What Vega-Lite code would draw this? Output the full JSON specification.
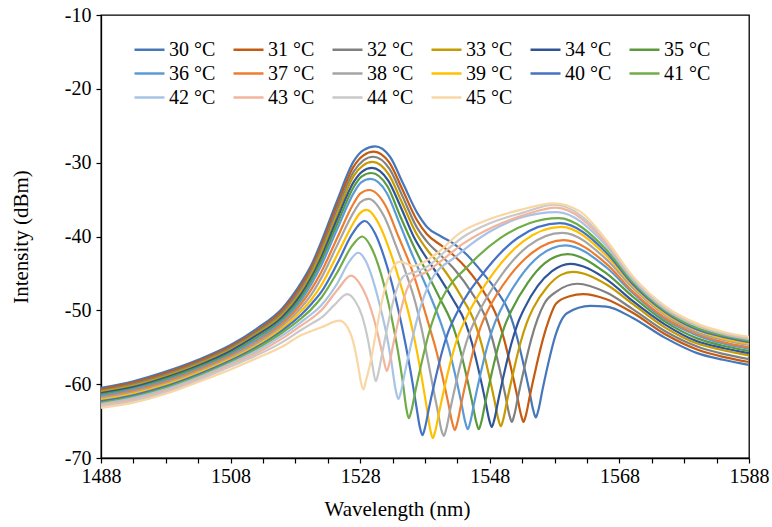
{
"$schema": "https://vega.github.io/schema/vega-lite/v6.json",
"width": 648, "height": 443,
"autosize": {"type": "none"},
"padding": {"left": 101, "top": 15, "right": 23, "bottom": 69},
"background": "white",
"config": {"view": {"stroke": "black", "strokeWidth": 1.3}, "font": "Times New Roman",
  "axis": {"labelFont": "Times New Roman", "titleFont": "Times New Roman"},
  "legend": {"labelFont": "Times New Roman"},
  "style": {"guide-label": {"font": "Times New Roman"}, "guide-title": {"font": "Times New Roman"}}},
"datasets": {"d": [
{"s":"30 °C","x":1488,"y":-60.5},{"s":"30 °C","x":1493,"y":-59.6},{"s":"30 °C","x":1498,"y":-58.3},{"s":"30 °C","x":1503,"y":-56.7},{"s":"30 °C","x":1508,"y":-54.7},{"s":"30 °C","x":1512,"y":-52.5},{"s":"30 °C","x":1516,"y":-49.7},{"s":"30 °C","x":1519,"y":-46.1},{"s":"30 °C","x":1520.5,"y":-43.8},{"s":"30 °C","x":1522,"y":-40.7},{"s":"30 °C","x":1524.5,"y":-35.0},{"s":"30 °C","x":1527,"y":-29.8},{"s":"30 °C","x":1528.5,"y":-28.3},{"s":"30 °C","x":1530.3,"y":-27.8},{"s":"30 °C","x":1532.6,"y":-29.2},{"s":"30 °C","x":1534.6,"y":-32.8},{"s":"30 °C","x":1536.8,"y":-36.8},{"s":"30 °C","x":1538.3,"y":-38.7},{"s":"30 °C","x":1540.5,"y":-40.0},{"s":"30 °C","x":1542.3,"y":-40.9},{"s":"30 °C","x":1544.5,"y":-42.5},{"s":"30 °C","x":1546.5,"y":-44.5},{"s":"30 °C","x":1549,"y":-47.3},{"s":"30 °C","x":1551.1,"y":-50.5},{"s":"30 °C","x":1552.1,"y":-53.3},{"s":"30 °C","x":1553.1,"y":-56.9},{"s":"30 °C","x":1554.1,"y":-60.9},{"s":"30 °C","x":1554.7,"y":-63.5},{"s":"30 °C","x":1555.1,"y":-64.5},{"s":"30 °C","x":1555.5,"y":-63.5},{"s":"30 °C","x":1556.1,"y":-60.9},{"s":"30 °C","x":1557.1,"y":-56.9},{"s":"30 °C","x":1558.1,"y":-53.5},{"s":"30 °C","x":1559.9,"y":-50.4},{"s":"30 °C","x":1563.5,"y":-49.4},{"s":"30 °C","x":1566,"y":-49.5},{"s":"30 °C","x":1570,"y":-51.0},{"s":"30 °C","x":1575,"y":-53.7},{"s":"30 °C","x":1580,"y":-55.8},{"s":"30 °C","x":1584,"y":-56.7},{"s":"30 °C","x":1588,"y":-57.4},
{"s":"31 °C","x":1488,"y":-60.7},{"s":"31 °C","x":1493,"y":-59.8},{"s":"31 °C","x":1498,"y":-58.5},{"s":"31 °C","x":1503,"y":-56.9},{"s":"31 °C","x":1508,"y":-54.9},{"s":"31 °C","x":1512,"y":-52.8},{"s":"31 °C","x":1516,"y":-50.0},{"s":"31 °C","x":1519,"y":-46.5},{"s":"31 °C","x":1520.5,"y":-44.2},{"s":"31 °C","x":1522,"y":-41.2},{"s":"31 °C","x":1524.5,"y":-35.6},{"s":"31 °C","x":1527,"y":-30.5},{"s":"31 °C","x":1528.5,"y":-29.0},{"s":"31 °C","x":1530.1,"y":-28.5},{"s":"31 °C","x":1532.5,"y":-30.0},{"s":"31 °C","x":1534.5,"y":-33.6},{"s":"31 °C","x":1536.7,"y":-37.7},{"s":"31 °C","x":1538.3,"y":-39.7},{"s":"31 °C","x":1540.5,"y":-41.2},{"s":"31 °C","x":1542.5,"y":-42.6},{"s":"31 °C","x":1544.5,"y":-44.4},{"s":"31 °C","x":1547.0,"y":-47.4},{"s":"31 °C","x":1549.2,"y":-51.1},{"s":"31 °C","x":1550.2,"y":-53.9},{"s":"31 °C","x":1551.2,"y":-57.5},{"s":"31 °C","x":1552.2,"y":-61.5},{"s":"31 °C","x":1552.8,"y":-64.1},{"s":"31 °C","x":1553.2,"y":-65.1},{"s":"31 °C","x":1553.6,"y":-64.1},{"s":"31 °C","x":1554.2,"y":-61.5},{"s":"31 °C","x":1555.2,"y":-57.5},{"s":"31 °C","x":1556.2,"y":-53.9},{"s":"31 °C","x":1557.2,"y":-51.1},{"s":"31 °C","x":1558.2,"y":-49.1},{"s":"31 °C","x":1560.3,"y":-48.1},{"s":"31 °C","x":1562.4,"y":-47.8},{"s":"31 °C","x":1566,"y":-48.5},{"s":"31 °C","x":1570,"y":-50.3},{"s":"31 °C","x":1575,"y":-53.2},{"s":"31 °C","x":1580,"y":-55.3},{"s":"31 °C","x":1584,"y":-56.3},{"s":"31 °C","x":1588,"y":-57.0},
{"s":"32 °C","x":1488,"y":-60.9},{"s":"32 °C","x":1493,"y":-60.0},{"s":"32 °C","x":1498,"y":-58.7},{"s":"32 °C","x":1503,"y":-57.1},{"s":"32 °C","x":1508,"y":-55.1},{"s":"32 °C","x":1512,"y":-53.0},{"s":"32 °C","x":1516,"y":-50.3},{"s":"32 °C","x":1519,"y":-46.9},{"s":"32 °C","x":1520.5,"y":-44.6},{"s":"32 °C","x":1522,"y":-41.7},{"s":"32 °C","x":1524.5,"y":-36.2},{"s":"32 °C","x":1527,"y":-31.2},{"s":"32 °C","x":1528.5,"y":-29.7},{"s":"32 °C","x":1530.0,"y":-29.2},{"s":"32 °C","x":1532.5,"y":-30.8},{"s":"32 °C","x":1534.5,"y":-34.5},{"s":"32 °C","x":1536.7,"y":-38.7},{"s":"32 °C","x":1538.5,"y":-40.9},{"s":"32 °C","x":1540.5,"y":-42.6},{"s":"32 °C","x":1542.7,"y":-44.6},{"s":"32 °C","x":1545.2,"y":-47.6},{"s":"32 °C","x":1547.4,"y":-51.1},{"s":"32 °C","x":1548.4,"y":-53.9},{"s":"32 °C","x":1549.4,"y":-57.5},{"s":"32 °C","x":1550.4,"y":-61.5},{"s":"32 °C","x":1551.0,"y":-64.1},{"s":"32 °C","x":1551.4,"y":-65.1},{"s":"32 °C","x":1551.8,"y":-64.1},{"s":"32 °C","x":1552.4,"y":-61.5},{"s":"32 °C","x":1553.4,"y":-57.5},{"s":"32 °C","x":1554.4,"y":-53.9},{"s":"32 °C","x":1555.4,"y":-51.1},{"s":"32 °C","x":1556.4,"y":-49.1},{"s":"32 °C","x":1558.4,"y":-47.4},{"s":"32 °C","x":1561.5,"y":-46.4},{"s":"32 °C","x":1566,"y":-47.6},{"s":"32 °C","x":1570,"y":-49.8},{"s":"32 °C","x":1575,"y":-52.8},{"s":"32 °C","x":1580,"y":-54.9},{"s":"32 °C","x":1584,"y":-55.9},{"s":"32 °C","x":1588,"y":-56.6},
{"s":"33 °C","x":1488,"y":-61.0},{"s":"33 °C","x":1493,"y":-60.2},{"s":"33 °C","x":1498,"y":-58.9},{"s":"33 °C","x":1503,"y":-57.3},{"s":"33 °C","x":1508,"y":-55.3},{"s":"33 °C","x":1512,"y":-53.2},{"s":"33 °C","x":1516,"y":-50.6},{"s":"33 °C","x":1519,"y":-47.3},{"s":"33 °C","x":1520.5,"y":-45.0},{"s":"33 °C","x":1522,"y":-42.2},{"s":"33 °C","x":1524.5,"y":-36.9},{"s":"33 °C","x":1527,"y":-31.8},{"s":"33 °C","x":1528.4,"y":-30.4},{"s":"33 °C","x":1529.9,"y":-29.9},{"s":"33 °C","x":1532.4,"y":-31.6},{"s":"33 °C","x":1534.4,"y":-35.3},{"s":"33 °C","x":1536.6,"y":-39.5},{"s":"33 °C","x":1538.5,"y":-42.0},{"s":"33 °C","x":1540.5,"y":-44.0},{"s":"33 °C","x":1543.5,"y":-48.0},{"s":"33 °C","x":1545.7,"y":-51.7},{"s":"33 °C","x":1546.7,"y":-54.5},{"s":"33 °C","x":1547.7,"y":-58.1},{"s":"33 °C","x":1548.7,"y":-62.1},{"s":"33 °C","x":1549.3,"y":-64.7},{"s":"33 °C","x":1549.7,"y":-65.7},{"s":"33 °C","x":1550.1,"y":-64.7},{"s":"33 °C","x":1550.7,"y":-62.1},{"s":"33 °C","x":1551.7,"y":-58.1},{"s":"33 °C","x":1552.7,"y":-54.5},{"s":"33 °C","x":1553.7,"y":-51.7},{"s":"33 °C","x":1554.7,"y":-49.7},{"s":"33 °C","x":1556.8,"y":-46.9},{"s":"33 °C","x":1559.0,"y":-45.2},{"s":"33 °C","x":1560.8,"y":-44.8},{"s":"33 °C","x":1566,"y":-46.5},{"s":"33 °C","x":1570,"y":-49.1},{"s":"33 °C","x":1575,"y":-52.3},{"s":"33 °C","x":1580,"y":-54.5},{"s":"33 °C","x":1584,"y":-55.4},{"s":"33 °C","x":1588,"y":-56.1},
{"s":"34 °C","x":1488,"y":-61.2},{"s":"34 °C","x":1493,"y":-60.4},{"s":"34 °C","x":1498,"y":-59.1},{"s":"34 °C","x":1503,"y":-57.5},{"s":"34 °C","x":1508,"y":-55.5},{"s":"34 °C","x":1512,"y":-53.4},{"s":"34 °C","x":1516,"y":-50.9},{"s":"34 °C","x":1519,"y":-47.7},{"s":"34 °C","x":1520.5,"y":-45.5},{"s":"34 °C","x":1522,"y":-42.8},{"s":"34 °C","x":1524.5,"y":-37.5},{"s":"34 °C","x":1527,"y":-32.6},{"s":"34 °C","x":1528.3,"y":-31.2},{"s":"34 °C","x":1529.8,"y":-30.7},{"s":"34 °C","x":1532.3,"y":-32.4},{"s":"34 °C","x":1534.3,"y":-36.1},{"s":"34 °C","x":1536.3,"y":-40.1},{"s":"34 °C","x":1538.3,"y":-43.0},{"s":"34 °C","x":1540.3,"y":-45.6},{"s":"34 °C","x":1542.3,"y":-48.5},{"s":"34 °C","x":1544.3,"y":-51.8},{"s":"34 °C","x":1545.3,"y":-54.6},{"s":"34 °C","x":1546.3,"y":-58.2},{"s":"34 °C","x":1547.3,"y":-62.2},{"s":"34 °C","x":1547.9,"y":-64.8},{"s":"34 °C","x":1548.3,"y":-65.8},{"s":"34 °C","x":1548.7,"y":-64.8},{"s":"34 °C","x":1549.3,"y":-62.2},{"s":"34 °C","x":1550.3,"y":-58.2},{"s":"34 °C","x":1551.3,"y":-54.6},{"s":"34 °C","x":1552.3,"y":-51.8},{"s":"34 °C","x":1553.3,"y":-49.8},{"s":"34 °C","x":1555.4,"y":-46.7},{"s":"34 °C","x":1557.6,"y":-44.7},{"s":"34 °C","x":1560.4,"y":-43.7},{"s":"34 °C","x":1566,"y":-45.8},{"s":"34 °C","x":1570,"y":-48.7},{"s":"34 °C","x":1575,"y":-51.9},{"s":"34 °C","x":1580,"y":-54.2},{"s":"34 °C","x":1584,"y":-55.1},{"s":"34 °C","x":1588,"y":-55.8},
{"s":"35 °C","x":1488,"y":-61.4},{"s":"35 °C","x":1493,"y":-60.6},{"s":"35 °C","x":1498,"y":-59.3},{"s":"35 °C","x":1503,"y":-57.7},{"s":"35 °C","x":1508,"y":-55.8},{"s":"35 °C","x":1512,"y":-53.7},{"s":"35 °C","x":1516,"y":-51.2},{"s":"35 °C","x":1519,"y":-48.1},{"s":"35 °C","x":1520.5,"y":-45.9},{"s":"35 °C","x":1522,"y":-43.3},{"s":"35 °C","x":1524.5,"y":-38.2},{"s":"35 °C","x":1527,"y":-33.3},{"s":"35 °C","x":1528.2,"y":-31.9},{"s":"35 °C","x":1529.7,"y":-31.4},{"s":"35 °C","x":1532.2,"y":-33.2},{"s":"35 °C","x":1534.2,"y":-37.3},{"s":"35 °C","x":1536.3,"y":-41.4},{"s":"35 °C","x":1538.3,"y":-44.9},{"s":"35 °C","x":1540.3,"y":-48.4},{"s":"35 °C","x":1542.3,"y":-52.1},{"s":"35 °C","x":1543.3,"y":-54.9},{"s":"35 °C","x":1544.3,"y":-58.5},{"s":"35 °C","x":1545.3,"y":-62.5},{"s":"35 °C","x":1545.9,"y":-65.1},{"s":"35 °C","x":1546.3,"y":-66.1},{"s":"35 °C","x":1546.7,"y":-65.1},{"s":"35 °C","x":1547.3,"y":-62.5},{"s":"35 °C","x":1548.3,"y":-58.5},{"s":"35 °C","x":1549.3,"y":-54.9},{"s":"35 °C","x":1550.3,"y":-52.1},{"s":"35 °C","x":1551.3,"y":-50.1},{"s":"35 °C","x":1553.9,"y":-46.2},{"s":"35 °C","x":1556.5,"y":-43.6},{"s":"35 °C","x":1560.0,"y":-42.4},{"s":"35 °C","x":1566,"y":-45.0},{"s":"35 °C","x":1570,"y":-48.1},{"s":"35 °C","x":1575,"y":-51.5},{"s":"35 °C","x":1580,"y":-53.8},{"s":"35 °C","x":1584,"y":-54.8},{"s":"35 °C","x":1588,"y":-55.5},
{"s":"36 °C","x":1488,"y":-61.6},{"s":"36 °C","x":1493,"y":-60.7},{"s":"36 °C","x":1498,"y":-59.5},{"s":"36 °C","x":1503,"y":-57.9},{"s":"36 °C","x":1508,"y":-56.0},{"s":"36 °C","x":1512,"y":-54.0},{"s":"36 °C","x":1516,"y":-51.5},{"s":"36 °C","x":1519,"y":-48.5},{"s":"36 °C","x":1520.5,"y":-46.4},{"s":"36 °C","x":1522,"y":-43.9},{"s":"36 °C","x":1524.5,"y":-38.9},{"s":"36 °C","x":1527,"y":-34.1},{"s":"36 °C","x":1528.1,"y":-32.7},{"s":"36 °C","x":1529.6,"y":-32.2},{"s":"36 °C","x":1532.1,"y":-34.1},{"s":"36 °C","x":1534.1,"y":-38.3},{"s":"36 °C","x":1536.1,"y":-42.6},{"s":"36 °C","x":1538.6,"y":-47.6},{"s":"36 °C","x":1540.6,"y":-52.1},{"s":"36 °C","x":1541.6,"y":-54.9},{"s":"36 °C","x":1542.6,"y":-58.5},{"s":"36 °C","x":1543.6,"y":-62.5},{"s":"36 °C","x":1544.2,"y":-65.1},{"s":"36 °C","x":1544.6,"y":-66.1},{"s":"36 °C","x":1545.0,"y":-65.1},{"s":"36 °C","x":1545.6,"y":-62.5},{"s":"36 °C","x":1546.6,"y":-58.5},{"s":"36 °C","x":1547.6,"y":-54.9},{"s":"36 °C","x":1548.6,"y":-52.1},{"s":"36 °C","x":1549.6,"y":-50.1},{"s":"36 °C","x":1552.6,"y":-45.6},{"s":"36 °C","x":1555.7,"y":-42.6},{"s":"36 °C","x":1559.7,"y":-41.2},{"s":"36 °C","x":1566,"y":-44.2},{"s":"36 °C","x":1570,"y":-47.6},{"s":"36 °C","x":1575,"y":-51.2},{"s":"36 °C","x":1580,"y":-53.4},{"s":"36 °C","x":1584,"y":-54.5},{"s":"36 °C","x":1588,"y":-55.2},
{"s":"37 °C","x":1488,"y":-61.8},{"s":"37 °C","x":1493,"y":-60.9},{"s":"37 °C","x":1498,"y":-59.7},{"s":"37 °C","x":1503,"y":-58.1},{"s":"37 °C","x":1508,"y":-56.2},{"s":"37 °C","x":1512,"y":-54.3},{"s":"37 °C","x":1516,"y":-51.8},{"s":"37 °C","x":1519,"y":-49.0},{"s":"37 °C","x":1520.5,"y":-47.1},{"s":"37 °C","x":1522,"y":-44.8},{"s":"37 °C","x":1524.5,"y":-40.1},{"s":"37 °C","x":1527,"y":-35.5},{"s":"37 °C","x":1528.0,"y":-34.2},{"s":"37 °C","x":1529.4,"y":-33.7},{"s":"37 °C","x":1531.9,"y":-35.8},{"s":"37 °C","x":1533.9,"y":-40.0},{"s":"37 °C","x":1535.9,"y":-44.3},{"s":"37 °C","x":1537.6,"y":-49.0},{"s":"37 °C","x":1538.6,"y":-52.0},{"s":"37 °C","x":1539.6,"y":-55.0},{"s":"37 °C","x":1540.6,"y":-58.6},{"s":"37 °C","x":1541.6,"y":-62.6},{"s":"37 °C","x":1542.2,"y":-65.2},{"s":"37 °C","x":1542.6,"y":-66.2},{"s":"37 °C","x":1543.0,"y":-65.2},{"s":"37 °C","x":1543.6,"y":-62.6},{"s":"37 °C","x":1544.6,"y":-58.6},{"s":"37 °C","x":1545.6,"y":-55.0},{"s":"37 °C","x":1546.6,"y":-52.2},{"s":"37 °C","x":1547.6,"y":-50.2},{"s":"37 °C","x":1551.1,"y":-45.3},{"s":"37 °C","x":1554.7,"y":-42.1},{"s":"37 °C","x":1559.4,"y":-40.5},{"s":"37 °C","x":1566,"y":-43.7},{"s":"37 °C","x":1570,"y":-47.4},{"s":"37 °C","x":1575,"y":-51.0},{"s":"37 °C","x":1580,"y":-53.2},{"s":"37 °C","x":1584,"y":-54.3},{"s":"37 °C","x":1588,"y":-55.0},
{"s":"38 °C","x":1488,"y":-61.9},{"s":"38 °C","x":1493,"y":-61.1},{"s":"38 °C","x":1498,"y":-59.9},{"s":"38 °C","x":1503,"y":-58.3},{"s":"38 °C","x":1508,"y":-56.4},{"s":"38 °C","x":1512,"y":-54.5},{"s":"38 °C","x":1516,"y":-52.1},{"s":"38 °C","x":1519,"y":-49.5},{"s":"38 °C","x":1520.5,"y":-47.8},{"s":"38 °C","x":1522,"y":-45.6},{"s":"38 °C","x":1524.5,"y":-41.1},{"s":"38 °C","x":1527,"y":-36.7},{"s":"38 °C","x":1528.0,"y":-35.4},{"s":"38 °C","x":1529.3,"y":-34.9},{"s":"38 °C","x":1531.7,"y":-37.3},{"s":"38 °C","x":1533.5,"y":-41.2},{"s":"38 °C","x":1535.2,"y":-45.3},{"s":"38 °C","x":1536.5,"y":-48.9},{"s":"38 °C","x":1537.5,"y":-52.6},{"s":"38 °C","x":1538.5,"y":-57.0},{"s":"38 °C","x":1539.5,"y":-61.6},{"s":"38 °C","x":1540.0,"y":-63.8},{"s":"38 °C","x":1540.5,"y":-66.1},{"s":"38 °C","x":1540.9,"y":-67.0},{"s":"38 °C","x":1541.3,"y":-66.0},{"s":"38 °C","x":1541.9,"y":-63.4},{"s":"38 °C","x":1542.9,"y":-59.4},{"s":"38 °C","x":1543.9,"y":-55.8},{"s":"38 °C","x":1544.9,"y":-53.0},{"s":"38 °C","x":1545.9,"y":-51.0},{"s":"38 °C","x":1549.9,"y":-45.1},{"s":"38 °C","x":1553.9,"y":-41.3},{"s":"38 °C","x":1559.2,"y":-39.5},{"s":"38 °C","x":1566,"y":-43.1},{"s":"38 °C","x":1570,"y":-46.9},{"s":"38 °C","x":1575,"y":-50.6},{"s":"38 °C","x":1580,"y":-53.0},{"s":"38 °C","x":1584,"y":-54.0},{"s":"38 °C","x":1588,"y":-54.7},
{"s":"39 °C","x":1488,"y":-62.1},{"s":"39 °C","x":1493,"y":-61.3},{"s":"39 °C","x":1498,"y":-60.1},{"s":"39 °C","x":1503,"y":-58.5},{"s":"39 °C","x":1508,"y":-56.6},{"s":"39 °C","x":1512,"y":-54.8},{"s":"39 °C","x":1516,"y":-52.4},{"s":"39 °C","x":1519,"y":-50.0},{"s":"39 °C","x":1520.5,"y":-48.5},{"s":"39 °C","x":1522,"y":-46.6},{"s":"39 °C","x":1524.5,"y":-42.4},{"s":"39 °C","x":1527,"y":-38.1},{"s":"39 °C","x":1527.9,"y":-36.9},{"s":"39 °C","x":1529.0,"y":-36.4},{"s":"39 °C","x":1531.0,"y":-38.5},{"s":"39 °C","x":1532.6,"y":-42.0},{"s":"39 °C","x":1534.0,"y":-45.8},{"s":"39 °C","x":1535.3,"y":-49.8},{"s":"39 °C","x":1536.4,"y":-54.0},{"s":"39 °C","x":1537.4,"y":-58.6},{"s":"39 °C","x":1538.2,"y":-62.8},{"s":"39 °C","x":1538.8,"y":-66.1},{"s":"39 °C","x":1539.2,"y":-67.3},{"s":"39 °C","x":1539.6,"y":-66.3},{"s":"39 °C","x":1540.2,"y":-63.7},{"s":"39 °C","x":1541.2,"y":-59.7},{"s":"39 °C","x":1542.2,"y":-56.1},{"s":"39 °C","x":1543.2,"y":-53.3},{"s":"39 °C","x":1544.2,"y":-51.3},{"s":"39 °C","x":1548.6,"y":-44.9},{"s":"39 °C","x":1553.1,"y":-40.7},{"s":"39 °C","x":1559.0,"y":-38.7},{"s":"39 °C","x":1566,"y":-42.6},{"s":"39 °C","x":1570,"y":-46.6},{"s":"39 °C","x":1575,"y":-50.4},{"s":"39 °C","x":1580,"y":-52.7},{"s":"39 °C","x":1584,"y":-53.8},{"s":"39 °C","x":1588,"y":-54.5},
{"s":"40 °C","x":1488,"y":-62.3},{"s":"40 °C","x":1493,"y":-61.5},{"s":"40 °C","x":1498,"y":-60.3},{"s":"40 °C","x":1503,"y":-58.7},{"s":"40 °C","x":1508,"y":-56.8},{"s":"40 °C","x":1512,"y":-55.0},{"s":"40 °C","x":1516,"y":-52.7},{"s":"40 °C","x":1519,"y":-50.5},{"s":"40 °C","x":1520.5,"y":-49.1},{"s":"40 °C","x":1522,"y":-47.5},{"s":"40 °C","x":1524.5,"y":-43.6},{"s":"40 °C","x":1526.8,"y":-39.6},{"s":"40 °C","x":1528.7,"y":-37.9},{"s":"40 °C","x":1530.3,"y":-39.6},{"s":"40 °C","x":1531.7,"y":-42.8},{"s":"40 °C","x":1532.9,"y":-46.4},{"s":"40 °C","x":1534.0,"y":-50.4},{"s":"40 °C","x":1535.0,"y":-54.6},{"s":"40 °C","x":1535.9,"y":-58.9},{"s":"40 °C","x":1536.7,"y":-63.2},{"s":"40 °C","x":1537.2,"y":-65.8},{"s":"40 °C","x":1537.6,"y":-66.9},{"s":"40 °C","x":1538.0,"y":-65.9},{"s":"40 °C","x":1538.6,"y":-63.3},{"s":"40 °C","x":1539.6,"y":-59.3},{"s":"40 °C","x":1540.6,"y":-55.7},{"s":"40 °C","x":1541.6,"y":-52.9},{"s":"40 °C","x":1542.6,"y":-50.9},{"s":"40 °C","x":1547.5,"y":-44.4},{"s":"40 °C","x":1552.3,"y":-40.2},{"s":"40 °C","x":1558.8,"y":-38.2},{"s":"40 °C","x":1566,"y":-42.2},{"s":"40 °C","x":1570,"y":-46.4},{"s":"40 °C","x":1575,"y":-50.2},{"s":"40 °C","x":1580,"y":-52.6},{"s":"40 °C","x":1584,"y":-53.6},{"s":"40 °C","x":1588,"y":-54.3},
{"s":"41 °C","x":1488,"y":-62.5},{"s":"41 °C","x":1493,"y":-61.7},{"s":"41 °C","x":1498,"y":-60.5},{"s":"41 °C","x":1503,"y":-58.9},{"s":"41 °C","x":1508,"y":-57.0},{"s":"41 °C","x":1512,"y":-55.2},{"s":"41 °C","x":1516,"y":-53.0},{"s":"41 °C","x":1519,"y":-51.0},{"s":"41 °C","x":1520.5,"y":-49.8},{"s":"41 °C","x":1522,"y":-48.3},{"s":"41 °C","x":1524.5,"y":-44.8},{"s":"41 °C","x":1526.8,"y":-41.2},{"s":"41 °C","x":1528.3,"y":-40.0},{"s":"41 °C","x":1529.6,"y":-41.3},{"s":"41 °C","x":1530.8,"y":-43.9},{"s":"41 °C","x":1531.9,"y":-47.3},{"s":"41 °C","x":1532.9,"y":-51.2},{"s":"41 °C","x":1533.8,"y":-55.4},{"s":"41 °C","x":1534.6,"y":-59.9},{"s":"41 °C","x":1535.1,"y":-63.2},{"s":"41 °C","x":1535.5,"y":-64.6},{"s":"41 °C","x":1535.9,"y":-63.6},{"s":"41 °C","x":1536.5,"y":-61.0},{"s":"41 °C","x":1537.5,"y":-57.0},{"s":"41 °C","x":1538.5,"y":-53.4},{"s":"41 °C","x":1539.5,"y":-50.6},{"s":"41 °C","x":1540.5,"y":-48.6},{"s":"41 °C","x":1545.0,"y":-43.7},{"s":"41 °C","x":1549.5,"y":-40.3},{"s":"41 °C","x":1554.1,"y":-38.2},{"s":"41 °C","x":1558.6,"y":-37.5},{"s":"41 °C","x":1566,"y":-41.8},{"s":"41 °C","x":1570,"y":-46.1},{"s":"41 °C","x":1575,"y":-50.0},{"s":"41 °C","x":1580,"y":-52.4},{"s":"41 °C","x":1584,"y":-53.4},{"s":"41 °C","x":1588,"y":-54.1},
{"s":"42 °C","x":1488,"y":-62.7},{"s":"42 °C","x":1493,"y":-61.9},{"s":"42 °C","x":1498,"y":-60.7},{"s":"42 °C","x":1503,"y":-59.1},{"s":"42 °C","x":1508,"y":-57.2},{"s":"42 °C","x":1512,"y":-55.5},{"s":"42 °C","x":1516,"y":-53.4},{"s":"42 °C","x":1519,"y":-51.5},{"s":"42 °C","x":1520.5,"y":-50.5},{"s":"42 °C","x":1522,"y":-49.3},{"s":"42 °C","x":1524.5,"y":-46.3},{"s":"42 °C","x":1526.3,"y":-43.4},{"s":"42 °C","x":1527.7,"y":-42.2},{"s":"42 °C","x":1528.9,"y":-43.4},{"s":"42 °C","x":1530.0,"y":-46.0},{"s":"42 °C","x":1531.0,"y":-49.2},{"s":"42 °C","x":1532.0,"y":-53.0},{"s":"42 °C","x":1532.8,"y":-56.9},{"s":"42 °C","x":1533.5,"y":-60.9},{"s":"42 °C","x":1533.9,"y":-62.0},{"s":"42 °C","x":1534.3,"y":-61.0},{"s":"42 °C","x":1534.9,"y":-58.4},{"s":"42 °C","x":1535.9,"y":-54.4},{"s":"42 °C","x":1536.9,"y":-50.8},{"s":"42 °C","x":1537.9,"y":-48.0},{"s":"42 °C","x":1538.9,"y":-46.0},{"s":"42 °C","x":1542.8,"y":-42.7},{"s":"42 °C","x":1547.7,"y":-39.5},{"s":"42 °C","x":1552.6,"y":-37.5},{"s":"42 °C","x":1558.4,"y":-36.7},{"s":"42 °C","x":1566,"y":-41.3},{"s":"42 °C","x":1570,"y":-45.8},{"s":"42 °C","x":1575,"y":-49.8},{"s":"42 °C","x":1580,"y":-52.1},{"s":"42 °C","x":1584,"y":-53.2},{"s":"42 °C","x":1588,"y":-53.9},
{"s":"43 °C","x":1488,"y":-62.8},{"s":"43 °C","x":1493,"y":-62.1},{"s":"43 °C","x":1498,"y":-60.9},{"s":"43 °C","x":1503,"y":-59.3},{"s":"43 °C","x":1508,"y":-57.4},{"s":"43 °C","x":1512,"y":-55.8},{"s":"43 °C","x":1516,"y":-53.8},{"s":"43 °C","x":1519,"y":-52.0},{"s":"43 °C","x":1520.5,"y":-51.1},{"s":"43 °C","x":1522,"y":-50.0},{"s":"43 °C","x":1524.5,"y":-47.2},{"s":"43 °C","x":1526.6,"y":-45.3},{"s":"43 °C","x":1527.8,"y":-46.2},{"s":"43 °C","x":1529.0,"y":-48.2},{"s":"43 °C","x":1530.0,"y":-50.8},{"s":"43 °C","x":1530.9,"y":-53.9},{"s":"43 °C","x":1531.6,"y":-56.6},{"s":"43 °C","x":1532.1,"y":-58.2},{"s":"43 °C","x":1532.5,"y":-57.2},{"s":"43 °C","x":1533.1,"y":-54.6},{"s":"43 °C","x":1534.1,"y":-50.6},{"s":"43 °C","x":1535.1,"y":-47.4},{"s":"43 °C","x":1536.3,"y":-45.6},{"s":"43 °C","x":1538.0,"y":-44.9},{"s":"43 °C","x":1540.5,"y":-43.3},{"s":"43 °C","x":1544,"y":-40.9},{"s":"43 °C","x":1548.5,"y":-38.7},{"s":"43 °C","x":1553.3,"y":-37.1},{"s":"43 °C","x":1558.2,"y":-36.1},{"s":"43 °C","x":1566,"y":-40.9},{"s":"43 °C","x":1570,"y":-45.5},{"s":"43 °C","x":1575,"y":-49.6},{"s":"43 °C","x":1580,"y":-52.0},{"s":"43 °C","x":1584,"y":-53.1},{"s":"43 °C","x":1588,"y":-53.8},
{"s":"44 °C","x":1488,"y":-63.0},{"s":"44 °C","x":1493,"y":-62.3},{"s":"44 °C","x":1498,"y":-61.1},{"s":"44 °C","x":1503,"y":-59.5},{"s":"44 °C","x":1508,"y":-57.6},{"s":"44 °C","x":1512,"y":-56.1},{"s":"44 °C","x":1516,"y":-54.3},{"s":"44 °C","x":1519,"y":-52.6},{"s":"44 °C","x":1520.5,"y":-51.8},{"s":"44 °C","x":1522,"y":-51.0},{"s":"44 °C","x":1524,"y":-49.3},{"s":"44 °C","x":1526.0,"y":-47.8},{"s":"44 °C","x":1527.2,"y":-48.7},{"s":"44 °C","x":1528.3,"y":-50.8},{"s":"44 °C","x":1529.2,"y":-54.0},{"s":"44 °C","x":1529.9,"y":-57.5},{"s":"44 °C","x":1530.4,"y":-59.6},{"s":"44 °C","x":1530.8,"y":-58.5},{"s":"44 °C","x":1531.4,"y":-55.8},{"s":"44 °C","x":1532.4,"y":-51.4},{"s":"44 °C","x":1533.5,"y":-47.5},{"s":"44 °C","x":1534.8,"y":-45.3},{"s":"44 °C","x":1536.5,"y":-44.8},{"s":"44 °C","x":1538.5,"y":-44.0},{"s":"44 °C","x":1541,"y":-42.1},{"s":"44 °C","x":1544,"y":-40.0},{"s":"44 °C","x":1548,"y":-38.2},{"s":"44 °C","x":1553,"y":-36.8},{"s":"44 °C","x":1558.0,"y":-35.7},{"s":"44 °C","x":1566,"y":-40.6},{"s":"44 °C","x":1570,"y":-45.4},{"s":"44 °C","x":1575,"y":-49.5},{"s":"44 °C","x":1580,"y":-51.9},{"s":"44 °C","x":1584,"y":-53.0},{"s":"44 °C","x":1588,"y":-53.7},
{"s":"45 °C","x":1488,"y":-63.2},{"s":"45 °C","x":1493,"y":-62.5},{"s":"45 °C","x":1498,"y":-61.3},{"s":"45 °C","x":1503,"y":-59.7},{"s":"45 °C","x":1508,"y":-58.0},{"s":"45 °C","x":1512,"y":-56.5},{"s":"45 °C","x":1516,"y":-54.9},{"s":"45 °C","x":1519,"y":-53.3},{"s":"45 °C","x":1520.5,"y":-52.8},{"s":"45 °C","x":1522,"y":-52.3},{"s":"45 °C","x":1524.8,"y":-51.4},{"s":"45 °C","x":1525.9,"y":-52.1},{"s":"45 °C","x":1526.9,"y":-54.2},{"s":"45 °C","x":1527.7,"y":-57.6},{"s":"45 °C","x":1528.1,"y":-59.7},{"s":"45 °C","x":1528.5,"y":-60.7},{"s":"45 °C","x":1528.9,"y":-59.5},{"s":"45 °C","x":1529.5,"y":-57.4},{"s":"45 °C","x":1530.5,"y":-52.7},{"s":"45 °C","x":1531.5,"y":-48.2},{"s":"45 °C","x":1532.6,"y":-45.0},{"s":"45 °C","x":1534.1,"y":-43.4},{"s":"45 °C","x":1536.2,"y":-44.0},{"s":"45 °C","x":1539.8,"y":-42.3},{"s":"45 °C","x":1543.4,"y":-39.5},{"s":"45 °C","x":1547.5,"y":-37.8},{"s":"45 °C","x":1552.7,"y":-36.4},{"s":"45 °C","x":1557.8,"y":-35.5},{"s":"45 °C","x":1561.9,"y":-36.6},{"s":"45 °C","x":1566,"y":-40.5},{"s":"45 °C","x":1570,"y":-45.3},{"s":"45 °C","x":1575,"y":-49.4},{"s":"45 °C","x":1580,"y":-51.8},{"s":"45 °C","x":1584,"y":-52.9},{"s":"45 °C","x":1588,"y":-53.6}
]},
"data": {"name": "d"},
"mark": {"type": "line", "interpolate": "monotone", "strokeWidth": 2.2, "clip": true},
"encoding": {
  "x": {"field": "x", "type": "quantitative",
    "scale": {"domain": [1488, 1588], "nice": false, "zero": false},
    "axis": {"title": "Wavelength (nm)", "values": [1488,1493,1498,1503,1508,1513,1518,1523,1528,1533,1538,1543,1548,1553,1558,1563,1568,1573,1578,1583,1588],
      "labelExpr": "(datum.value - 1488) % 20 == 0 ? datum.value + '' : ''",
      "grid": false, "tickSize": 5, "tickColor": "black", "domainColor": "black", "domainWidth": 1.3, "tickWidth": 1.2,
      "labelFontSize": 20, "titleFontSize": 21, "labelColor": "black", "titleColor": "black", "titleFontWeight": "normal",
      "labelFont": "Times New Roman", "titleFont": "Times New Roman",
      "labelPadding": 3, "titlePadding": 12, "titleX": 296, "labelFlush": false, "labelOverlap": false}},
  "y": {"field": "y", "type": "quantitative",
    "scale": {"domain": [-70, -10], "nice": false, "zero": false},
    "axis": {"title": "Intensity (dBm)", "values": [-70,-60,-50,-40,-30,-20,-10],
      "labelExpr": "datum.value + ''",
      "grid": false, "tickSize": 5, "tickColor": "black", "domainColor": "black", "domainWidth": 1.3, "tickWidth": 1.2,
      "labelFontSize": 20, "titleFontSize": 21, "labelColor": "black", "titleColor": "black", "titleFontWeight": "normal",
      "labelFont": "Times New Roman", "titleFont": "Times New Roman",
      "labelPadding": 5, "titlePadding": 33, "labelOverlap": false}},
  "color": {"field": "s", "type": "nominal",
    "scale": {"domain": ["30 °C","31 °C","32 °C","33 °C","34 °C","35 °C","36 °C","37 °C","38 °C","39 °C","40 °C","41 °C","42 °C","43 °C","44 °C","45 °C"],
      "range": ["#4677B8","#C55A11","#808080","#C59B00","#2F5597","#5A9A3C","#5B9BD5","#ED7D31","#A5A5A5","#FFC000","#4472C4","#70AD47","#A7C3E5","#F2B49C","#C9C9C9","#F9D7A4"]},
    "legend": {"title": null, "orient": "none", "legendX": 35, "legendY": 21, "columns": 6, "direction": "horizontal",
      "symbolType": "M-1.25,0H1.25", "symbolSize": 576, "symbolStrokeWidth": 2.5, "labelFontSize": 20, "labelFont": "Times New Roman", "labelColor": "black",
      "columnPadding": 12, "rowPadding": 0, "labelOffset": 6, "padding": 0, "symbolLimit": 0, "labelLimit": 0}}
}
}
